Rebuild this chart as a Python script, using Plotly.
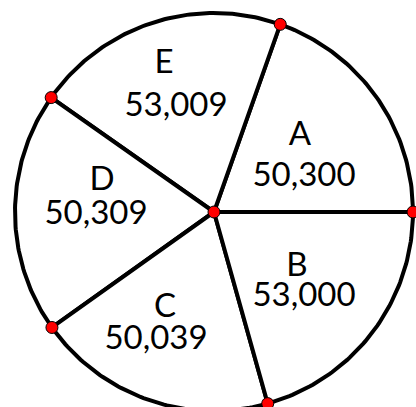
import numpy as np
import plotly.graph_objects as go

# sectors listed counterclockwise, starting at 3 o'clock
labels = ["A", "E", "D", "C", "B"]
values = [50300, 53009, 50309, 50039, 53000]

# layout (pixel units, y grows downward)
W, H = 416, 407
cx, cy, r = 214, 212, 199
# label anchors (letter, number) per sector, in pixels
letter_pos = [(300, 137), (164, 65), (102, 182), (165, 309), (297, 268)]
number_pos = [(304, 178), (176, 108), (96, 216), (156, 341), (304, 298)]

font = "Lato, 'Open Sans', sans-serif"

vals = np.array(values, dtype=float)
edges = np.concatenate([[0], np.cumsum(vals) / vals.sum() * 360])

fig = go.Figure()

# Sector outlines
for i in range(len(labels)):
    t = np.radians(np.linspace(edges[i], edges[i + 1], 80))
    xs = np.concatenate([[cx], cx + r * np.cos(t), [cx]])
    ys = np.concatenate([[cy], cy - r * np.sin(t), [cy]])
    fig.add_trace(go.Scatter(
        x=xs, y=ys, mode="lines", fill="toself",
        fillcolor="white", line=dict(color="black", width=4),
        hoverinfo="skip", showlegend=False
    ))

# Letters and values
for i, lab in enumerate(labels):
    fig.add_trace(go.Scatter(
        x=[letter_pos[i][0], number_pos[i][0]],
        y=[letter_pos[i][1], number_pos[i][1]],
        mode="text", text=[lab, f"{values[i]:,}"],
        textposition="middle center",
        textfont=dict(family=font, size=33, color="black"),
        hoverinfo="skip", showlegend=False
    ))

# Red dots at the centre and on the rim
t = np.radians(edges[:-1])
fig.add_trace(go.Scatter(
    x=np.concatenate([[cx], cx + r * np.cos(t)]),
    y=np.concatenate([[cy], cy - r * np.sin(t)]),
    mode="markers",
    marker=dict(size=12, color="red", line=dict(color="black", width=1)),
    hoverinfo="skip", showlegend=False
))

fig.update_layout(
    width=W, height=H,
    margin=dict(l=0, r=0, t=0, b=0),
    paper_bgcolor="white", plot_bgcolor="white",
    xaxis=dict(range=[0, W], visible=False, fixedrange=True),
    yaxis=dict(range=[H, 0], visible=False, fixedrange=True),
    showlegend=False,
)

# drop the page's default body margin so the figure fills the window
fig.write_html(
    "out.html",
    config={"displayModeBar": False},
    post_script="document.body.style.margin='0';document.body.style.overflow='hidden';",
)
